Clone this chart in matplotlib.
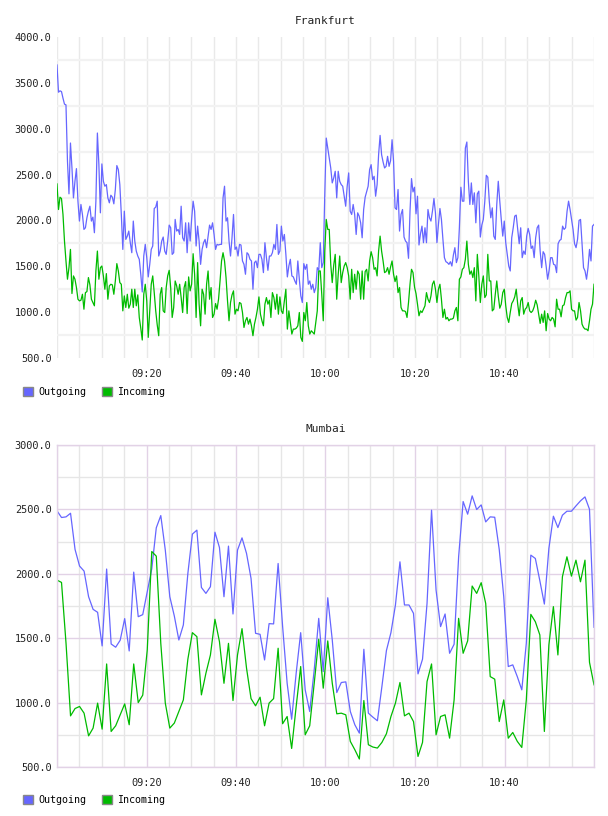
import numpy as np
import pandas as pd
import matplotlib
matplotlib.use("Agg")
import matplotlib.pyplot as plt
import matplotlib.dates as mdates
from matplotlib.patches import Patch

# Frankfurt: samples every ~20 s, 09:00 - 11:00
fra_out = [3695, 3398, 3413, 3405, 3333, 3268, 3260, 2645, 2290, 2844, 2572, 2246, 2427, 2565, 2210, 1993,
           2174, 2065, 1902, 1920, 2029, 2101, 2155, 1993, 2036, 1866, 2210, 2953, 2608, 2083, 2616, 2427,
           2373, 2391, 2246, 2192, 2275, 2253, 2181, 2337, 2598, 2554, 2391, 2065, 1684, 2101, 1793, 1829,
           1884, 1757, 1648, 1993, 1775, 1666, 1612, 1576, 1413, 1220, 1612, 1739, 1594, 1384, 1521, 1684,
           1721, 2130, 2145, 2210, 1612, 1666, 1775, 1819, 1666,
           1630, 1775, 1949, 1920, 1630, 1648, 2011, 1884, 1902, 1847, 2155, 1811, 1775, 1974, 1648, 1974,
           1775, 2011, 2210, 2101, 1721, 1938, 1775, 1521, 1684, 1757, 1793, 1703, 1829, 1949, 1902, 1974,
           1847, 1684, 1739, 1732, 1739, 1739, 2246, 2373, 1993, 2029, 1775, 1612, 1811, 2065, 1684, 1710,
           1612, 1739, 1732, 1558, 1521, 1413, 1648, 1630, 1576, 1558, 1250, 1540, 1558, 1485, 1630, 1630,
           1576, 1431, 1757, 1594, 1456, 1612, 1612, 1648, 1739,
           1684, 1956, 1630, 1666, 1938, 1775, 1847, 1630, 1384, 1503, 1576, 1395, 1384, 1340, 1304, 1558,
           1359, 1177, 1105, 1529, 1467, 1521, 1304, 1340, 1250, 1304, 1213, 1268, 1485, 1456, 1757, 1485,
           1540, 2282, 2898, 2789, 2681, 2572, 2409, 2463, 2536, 2246, 2536, 2427, 2391, 2373, 2264, 2155,
           2373, 2518, 2101, 2065, 2174, 2065, 1847, 2083, 2047, 1974, 1811, 2119, 2253, 2311, 2373, 2554,
           2608, 2445, 2481, 2264, 2391, 2717, 2927, 2717,
           2637, 2572, 2590, 2699, 2590, 2652, 2880, 2645, 2137, 2119, 2337, 1884, 2065, 2119, 1819, 1775,
           1757, 1587, 2101, 2456, 2311, 2362, 2072, 2264, 1732, 1855, 1938, 1757, 1920, 1757, 2119, 2029,
           1993, 2101, 2239, 2083, 1757, 1956, 2130, 2011, 1793, 1594, 1550, 1540, 1521, 1550, 1503, 1623,
           1703, 1540, 1594, 1920, 2362, 2210, 2210, 2789, 2855, 2427, 2174, 2409, 2174, 2301, 1974, 2290,
           2319, 1819, 1949, 2011, 2210, 2492, 2471, 2210, 2029,
           2137, 1829, 1793, 2174, 2427, 2210, 2011, 1829, 1993, 1757, 1630, 1503, 1449, 1811, 1920, 2047,
           2058, 1902, 1746, 1920, 1594, 1666, 1630, 1829, 1913, 1847, 1695, 1721, 1594, 1811, 1920, 1949,
           1666, 1485, 1659, 1630, 1503, 1359, 1456, 1594, 1594, 1521, 1514, 1431, 1746, 1782, 1793, 1938,
           1902, 1920, 2101, 2210, 2119, 2011, 1902, 1746, 1703, 1793, 2000, 2011, 1757, 1485, 1449, 1359,
           1485, 1684, 1558, 1938, 1956]
fra_in = [2398, 2119, 2253, 2239, 2065, 1775, 1558, 1359, 1485, 1684, 1203, 1395, 1359, 1268, 1141, 1123,
          1130, 1195, 1032, 1213, 1224, 1377, 1297, 1141, 1105, 1069, 1449, 1666, 1359, 1485, 1503, 1395,
          1250, 1420, 1141, 1286, 1304, 1297, 1195, 1340, 1529, 1449, 1322, 1304, 1014, 1177, 1051, 1195,
          1043, 1087, 1250, 1051, 1250, 1069, 1188, 942, 826, 696, 1195, 1304, 1123, 725, 1014, 1304,
          1395, 1213, 1014, 862, 743, 1195, 1268, 1014, 996,
          1268, 1395, 1456, 1268, 942, 1051, 1340, 1286, 1195, 1304, 1159, 996, 1268, 1333, 985, 1384,
          1232, 1304, 1637, 1413, 942, 1540, 1087, 851, 1250, 1195, 978, 1304, 1449, 1141, 1268, 942,
          978, 1094, 1032, 1141, 1340, 1558, 1648, 1558, 1377, 1123, 906, 1105, 1188, 1232, 978, 1032,
          1014, 1105, 1094, 996, 833, 906, 942, 869, 924, 851, 743, 869, 942, 1032, 1166, 978,
          906, 851, 1087, 1159, 1087, 1130, 942, 1213, 1159,
          1032, 1195, 978, 1166, 1014, 985, 1123, 1250, 815, 1014, 888, 761, 815, 815, 826, 851,
          996, 725, 681, 996, 906, 1105, 851, 761, 797, 779, 761, 888, 1014, 1449, 1449, 1195,
          906, 1666, 2011, 1902, 1902, 1521, 1322, 1514, 1630, 1141, 1413, 1612, 1322, 1431, 1503, 1540,
          1485, 1395, 1141, 1467, 1213, 1413, 1250, 1449, 1413, 1141, 1449, 1141, 1442, 1467, 1340, 1558,
          1659, 1594, 1467, 1485, 1395, 1666, 1829, 1666,
          1558, 1431, 1442, 1485, 1413, 1493, 1558, 1413, 1333, 1395, 1213, 1268, 1051, 1014, 1014, 1007,
          942, 1105, 1304, 1467, 1431, 1275, 1203, 1087, 960, 1014, 996, 1032, 1069, 1213, 1141, 1105,
          1177, 1304, 1340, 1250, 1105, 1250, 1304, 1141, 942, 1032, 924, 942, 906, 924, 924, 935,
          1014, 1051, 906, 1359, 1384, 1467, 1485, 1576, 1775, 1521, 1413, 1449, 1377, 1485, 1123, 1630,
          1395, 1105, 1304, 1395, 1159, 1188, 1630, 1340, 1340,
          1014, 1032, 1195, 1340, 1177, 1043, 1087, 1213, 1250, 1069, 942, 888, 996, 1094, 1123, 1166,
          1250, 1087, 960, 1123, 1159, 978, 1032, 1051, 1105, 1014, 996, 1014, 1058, 1130, 1080, 978,
          877, 978, 888, 1014, 797, 985, 924, 906, 942, 924, 840, 1141, 1032, 1032, 949, 1069,
          1080, 1159, 1213, 1213, 1232, 1032, 1014, 1014, 913, 942, 1105, 1014, 869, 833, 815, 815,
          797, 906, 1032, 1087, 1304]

# Mumbai: one sample per minute, 09:00 - 11:00
mum_out = [2489, 2437, 2442, 2470, 2189, 2060, 2021, 1822, 1724, 1701, 1440, 2037, 1455, 1430, 1484, 1652,
           1401, 2013, 1667, 1683, 1861, 2039, 2357, 2452, 2184, 1822, 1672, 1486, 1603, 2003, 2308, 2339,
           1894, 1848, 1900, 2323, 2204, 1822, 2215, 1688, 2184, 2279, 2158, 1964, 1538, 1530, 1331, 1613,
           1611, 2080, 1590, 1150, 871, 1228, 1543, 1099, 931,
           1254, 1654, 1241, 1814, 1486, 1078, 1156, 1161, 931, 828, 763, 1414, 918, 887, 859, 1125,
           1404, 1543, 1758, 2093, 1758, 1758, 1693, 1223, 1337, 1770, 2494, 1874, 1590, 1688, 1383, 1453,
           2132, 2561, 2463, 2605, 2499, 2535, 2403, 2442, 2439, 2189, 1822, 1280, 1293, 1202, 1099, 1461,
           2145, 2119, 1946, 1765, 2197, 2447, 2359, 2455, 2486, 2486, 2527, 2566, 2597, 2501, 1585]
mum_in = [1951, 1933, 1460, 897, 954, 970, 918, 742, 802, 996, 794, 1300, 776, 820, 905, 990,
          828, 1300, 1000, 1058, 1409, 2173, 2137, 1460, 996, 802, 841, 931, 1021, 1337, 1543, 1512,
          1060, 1228, 1370, 1647, 1473, 1150, 1460, 1016, 1370, 1574, 1267, 1031, 975, 1042, 820, 996,
          1031, 1422, 836, 892, 644, 970, 1280, 750, 820,
          1150, 1492, 1112, 1479, 1150, 913, 918, 905, 699, 634, 562, 1016, 673, 655, 647, 691,
          758, 892, 996, 1156, 897, 918, 853, 582, 691, 1163, 1300, 750, 892, 905, 724, 1021,
          1654, 1383, 1479, 1905, 1848, 1931, 1770, 1202, 1182, 853, 1021, 724, 768, 699, 652, 1021,
          1685, 1628, 1525, 776, 1448, 1745, 1370, 1977, 2132, 1982, 2106, 1938, 2106, 1313, 1138]

t_fra = pd.date_range("2000-01-01 09:00", "2000-01-01 11:00", periods=len(fra_out)).to_pydatetime()
t_mum = pd.date_range("2000-01-01 09:00", "2000-01-01 11:00", periods=len(mum_out)).to_pydatetime()

tick_labels = ["09:20", "09:40", "10:00", "10:20", "10:40"]
tick_times = [pd.Timestamp("2000-01-01 " + s).to_pydatetime() for s in tick_labels]
t0 = pd.Timestamp("2000-01-01 09:00").to_pydatetime()
t1 = pd.Timestamp("2000-01-01 11:00").to_pydatetime()

BLUE = "#6666ff"
GREEN = "#00bb00"
PURPLE = "#e2d2e6"
TXT = "#222222"
FONT = "DejaVu Sans Mono"

fig = plt.figure(figsize=(6.08, 8.16), dpi=100)
ax1 = fig.add_axes([57/608, 1-358/816, 537/608, 321/816])
ax2 = fig.add_axes([57/608, 1-767/816, 537/608, 322/816])


def setup(ax, title, ymin, ymax, frame):
    ax.set_xlim(t0, t1)
    ax.set_ylim(ymin, ymax)
    ax.set_xticks(tick_times)
    ax.set_xticklabels(tick_labels)
    ax.xaxis.set_minor_locator(mdates.MinuteLocator(byminute=range(0, 60, 5)))
    yt = np.arange(ymin, ymax + 1, 500)
    ax.set_yticks(yt)
    ax.set_yticklabels(["%.1f" % v for v in yt])
    ax.set_yticks(np.arange(ymin + 250, ymax, 500), minor=True)
    ax.tick_params(which="both", length=0)
    ax.tick_params(axis="y", pad=4)
    ax.tick_params(axis="x", pad=8)
    for lab in ax.get_xticklabels() + ax.get_yticklabels():
        lab.set_fontfamily(FONT)
        lab.set_fontsize(7.4)
        lab.set_color(TXT)
    ax.set_title(title, fontfamily=FONT, fontsize=8, color=TXT, pad=9)
    ax.set_axisbelow(True)
    if frame:
        ax.grid(which="minor", color="#e6e6e6", lw=1)
        ax.grid(which="major", color=PURPLE, lw=1)
        for s in ax.spines.values():
            s.set_color(PURPLE)
            s.set_linewidth(1)
    else:
        ax.grid(which="both", axis="x", color="#e9e9e9", lw=1)
        ax.grid(which="minor", axis="y", color="#f2f2f2", lw=1.6)
        for s in ax.spines.values():
            s.set_visible(False)


setup(ax1, "Frankfurt", 500, 4000, False)
ax1.plot(t_fra, fra_out, color=BLUE, lw=0.9)
ax1.plot(t_fra, fra_in, color=GREEN, lw=0.9)

setup(ax2, "Mumbai", 500, 3000, True)
ax2.plot(t_mum, mum_out, color=BLUE, lw=0.9)
ax2.plot(t_mum, mum_in, color=GREEN, lw=0.9)

handles = [Patch(facecolor=BLUE, edgecolor="#888888", label="Outgoing"),
           Patch(facecolor=GREEN, edgecolor="#888888", label="Incoming")]
for ax, yc in [(ax1, 1-392/816), (ax2, 1-800/816)]:
    ax.legend(handles=handles, loc="center left", bbox_to_anchor=(23/608, yc),
              bbox_transform=fig.transFigure, ncol=2, frameon=False,
              prop={"family": FONT, "size": 7.2}, handlelength=1.0, handleheight=1.0,
              handletextpad=0.5, columnspacing=1.6, borderpad=0, borderaxespad=0)

fig.savefig("out.png", dpi=100)
